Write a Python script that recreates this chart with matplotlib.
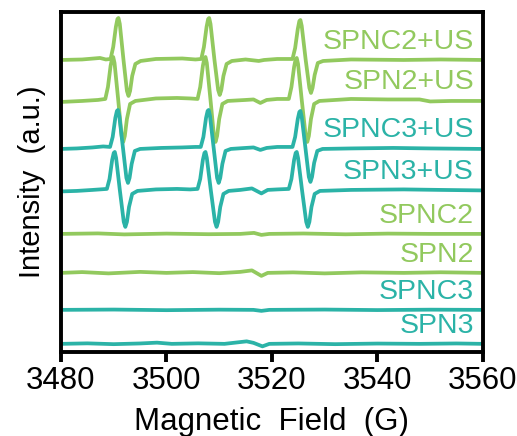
import matplotlib
matplotlib.use("Agg")
import matplotlib.pyplot as plt

plt.rcParams['font.family'] = ['Liberation Sans', 'DejaVu Sans']

GREEN = '#92C95E'
TEAL = '#2BB3A7'

names = ['SPNC2+US', 'SPN2+US', 'SPNC3+US', 'SPN3+US', 'SPNC2', 'SPN2', 'SPNC3', 'SPN3']
colors = [GREEN, GREEN, TEAL, TEAL, GREEN, GREEN, TEAL, TEAL]
offsets = [292, 252, 204, 162, 118, 79, 42, 8]

# ---- SPNC2+US ----
spnc2_us_field = [3480, 3484, 3487.4, 3488.5,
                  3489.4, 3489.9, 3490.4, 3490.7, 3490.9, 3491.15, 3491.85, 3492.5, 3492.8, 3493.1, 3493.5, 3494.1, 3495.1,
                  3498, 3503, 3505.5,
                  3506.6, 3507.1, 3507.6, 3507.9, 3508.1, 3508.35, 3509.1, 3509.8, 3510.1, 3510.4, 3510.8, 3511.4, 3512.4,
                  3515, 3517.5, 3518.5, 3521,
                  3523.9, 3524.4, 3524.9, 3525.2, 3525.4, 3525.65, 3526.4, 3527.1, 3527.4, 3527.7, 3528.1, 3528.7, 3529.7,
                  3535, 3545, 3552, 3560]
spnc2_us_int = [0, 0.5, 2, 0.5,
                1, 13, 33, 41, 42, 36, 0, -31, -36, -31, -16, -4, -1,
                1, 1.5, 0.5,
                1, 13, 33, 41, 42, 36, 0, -30, -35, -30, -16, -4, -1,
                0.5, -1, 0, 1,
                1, 12, 31, 39, 40, 34, 0, -28, -33, -28, -15, -3, -1,
                0.5, 0, 0.5, 0]

# ---- SPN2+US ----
spn2_us_field = [3480, 3484, 3487,
                 3488.4, 3488.9, 3489.4, 3489.7, 3489.9, 3490.15, 3490.85, 3491.5, 3491.8, 3492.1, 3492.5, 3493.1, 3494.1,
                 3498, 3502, 3504.5,
                 3505.9, 3506.4, 3506.9, 3507.2, 3507.4, 3507.65, 3508.35, 3509.0, 3509.3, 3509.6, 3510.0, 3510.6, 3511.6,
                 3515, 3516.5, 3517.8, 3519, 3521,
                 3523.2, 3523.7, 3524.2, 3524.5, 3524.7, 3524.95, 3525.65, 3526.4, 3526.7, 3527.0, 3527.4, 3528.0, 3529.0,
                 3535, 3542, 3548, 3550, 3554, 3560]
spn2_us_int = [-2, -1, 0,
               1, 13, 34, 42, 43, 37, 0, -36, -42, -36, -19, -4, -1,
               1.5, 2, 1.5,
               1, 13, 34, 42, 43, 37, 0, -36, -42, -36, -19, -4, -1,
               0, 0.5, -3, 0, 1,
               1, 13, 33, 41, 42, 36, 0, -36, -42, -36, -19, -4, -1,
               1, 0.5, 0.5, -1.5, -1, -1]

# ---- SPNC3+US ----
spnc3_us_field = [3480, 3483, 3486, 3488,
                  3489.3, 3489.8, 3490.3, 3490.6, 3490.8, 3491.05, 3491.75, 3492.4, 3492.7, 3493.0, 3493.4, 3494.0, 3495.0,
                  3499, 3503, 3505.5,
                  3506.5, 3507.0, 3507.5, 3507.8, 3508.0, 3508.25, 3508.95, 3509.6, 3509.9, 3510.2, 3510.6, 3511.2, 3512.2,
                  3515, 3516.5, 3517.8, 3519, 3521,
                  3523.9, 3524.4, 3524.9, 3525.2, 3525.4, 3525.65, 3526.35, 3527.0, 3527.3, 3527.6, 3528.0, 3528.6, 3529.6,
                  3535, 3543, 3550, 3560]
spnc3_us_int = [-1, -0.5, 0.5, 1.5,
                1, 11, 30, 37, 38, 32, 0, -30, -35, -30, -16, -3, -1,
                0, 0.5, 1,
                1, 11, 30, 37, 38, 32, 0, -30, -35, -30, -16, -3, -1,
                0, 0.5, -2, 0, 1,
                1, 11, 29, 36, 37, 31, 0, -29, -34, -29, -15, -3, -1,
                -0.5, 0, -0.5, -1]

# ---- SPN3+US ----
spn3_us_field = [3480, 3483, 3486,
                 3488.7, 3489.2, 3489.7, 3490.0, 3490.2, 3490.45, 3491.15, 3491.9, 3492.2, 3492.5, 3492.9, 3493.5, 3494.5,
                 3498, 3502, 3504.5,
                 3505.9, 3506.4, 3506.9, 3507.2, 3507.4, 3507.65, 3508.4, 3509.2, 3509.5, 3509.8, 3510.2, 3510.8, 3511.8,
                 3514, 3516.2, 3518.0, 3519.2, 3521,
                 3523.2, 3523.7, 3524.2, 3524.5, 3524.7, 3524.95, 3525.7, 3526.5, 3526.8, 3527.1, 3527.5, 3528.1, 3529.1,
                 3535, 3545, 3552, 3560]
spn3_us_int = [-1.5, -1, 0,
               1, 11, 30, 37, 38, 32, 0, -32, -37, -32, -17, -4, -1,
               0.5, 1, 0.5,
               1, 11, 30, 37, 38, 32, 0, -32, -37, -32, -17, -4, -1,
               0, 1.5, -3.5, 0, 0.5,
               1, 11, 30, 37, 38, 32, 0, -32, -37, -32, -17, -4, -1,
               0, 0.5, 0, -0.5]

# ---- SPNC2 ----
spnc2_field = [3480, 3487, 3492, 3500, 3508, 3514, 3516.6, 3518.0, 3519.5, 3526, 3534, 3542, 3550, 3560]
spnc2_int = [0, 0.5, -0.5, 0.3, -0.3, 0, 1, -1, 0, 0.4, -0.4, 0.3, 0, 0]

# ---- SPN2 ----
spn2_field = [3480, 3484, 3489, 3495, 3500, 3505, 3510, 3514, 3516.2, 3518.0, 3519.2, 3524, 3530, 3537, 3545, 3552, 3560]
spn2_int = [0, 0.8, -0.5, 1, 0, 0.8, -0.3, 1, 2.5, -3, 0, 0.5, -0.5, 0.5, 0, 0.6, 0]

# ---- SPNC3 ----
spnc3_field = [3480, 3490, 3500, 3510, 3516.5, 3518.0, 3519.5, 3530, 3540, 3550, 3560]
spnc3_int = [0, 0.3, -0.3, 0.2, 0, -1, 0, 0.3, -0.2, 0.2, 0]

# ---- SPN3 ----
spn3_field = [3480, 3485, 3490, 3495, 3498.2, 3501, 3506, 3511, 3515.2, 3516.5, 3518.2, 3519.5, 3525, 3532, 3540, 3548, 3555, 3560]
spn3_int = [0, 0.5, -0.3, 0.4, 1.2, 0, 0.5, 0, 2.5, 1, -2.5, 0, 0.4, -0.3, 0.3, 0, 0.4, 0]

fields = [spnc2_us_field, spn2_us_field, spnc3_us_field, spn3_us_field,
          spnc2_field, spn2_field, spnc3_field, spn3_field]
intens = [spnc2_us_int, spn2_us_int, spnc3_us_int, spn3_us_int,
          spnc2_int, spn2_int, spnc3_int, spn3_int]

xticks = [3480, 3500, 3520, 3540, 3560]

fig = plt.figure(figsize=(5.17, 4.36), dpi=100)
ax = fig.add_axes([0.118, 0.193, 0.816, 0.7795])

for f, y, off, c, name in zip(fields, intens, offsets, colors, names):
    ax.plot(f, [v + off for v in y], color=c, lw=2.7, solid_joinstyle='round', solid_capstyle='butt')
    ax.text(3558.3, off + 11, name, color=c, fontsize=20.5, ha='right', va='baseline')

ax.set_xlim(3480, 3560)
ax.set_ylim(0, 340)
ax.set_xticks(xticks)
ax.set_xticklabels([str(t) for t in xticks])
ax.set_yticks([])
for s in ax.spines.values():
    s.set_linewidth(2.8)
ax.tick_params(axis='x', direction='out', length=7, width=2.8, labelsize=22.5, pad=3)
ax.set_xlabel('Magnetic  Field  (G)', fontsize=22.5, labelpad=8)
ax.set_ylabel('Intensity  (a.u.)', fontsize=21, labelpad=11)

fig.savefig('out.png', dpi=100)
